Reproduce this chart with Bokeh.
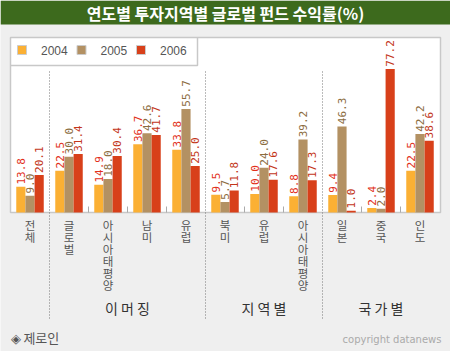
import math
from bokeh.plotting import figure
from bokeh.models import Range1d
from bokeh.core.properties import value
from bokeh.embed import file_html
from bokeh.resources import INLINE

# ---- data ----
title_text = "연도별 투자지역별 글로벌 펀드 수익률(%)"
categories = ["전체", "글로벌", "아시아태평양", "남미", "유럽", "북미", "유럽", "아시아태평양", "일본", "중국", "인도"]
years = ["2004", "2005", "2006"]
v2004 = [13.8, 22.5, 14.9, 36.7, 33.8, 9.5, 10.0, 8.8, 9.4, 2.4, 22.5]
v2005 = [9.0, 30.0, 18.0, 42.6, 55.7, 5.7, 24.0, 39.2, 46.3, 2.0, 42.2]
v2006 = [20.1, 31.4, 30.4, 41.7, 25.0, 11.8, 17.6, 17.3, 1.0, 77.2, 38.6]
groups = [("이 머 징", 1, 5), ("지 역 별", 5, 8), ("국 가 별", 8, 11)]
source_text = "◈ 제로인"
credit_text = "copyright datanews"

bar_colors = ["#fbb034", "#b39163", "#d8401a"]
label_colors = ["#e2301a", "#8c6d3f", "#c3361a"]

W, H = 450, 351
# plot box in pixels (from top-left)
BOX_L, BOX_R, BOX_T, BOX_B = 10, 440, 37, 212
n = len(categories)
P = (BOX_R - BOX_L - 1) / n          # pixels per category cell
S = 1.86                             # pixels per percentage point

p = figure(width=W, height=H, min_border=0, toolbar_location=None,
           output_backend="svg", x_axis_type=None, y_axis_type=None,
           title=None,
           x_range=Range1d(-BOX_L / P, (W - BOX_L) / P),
           y_range=Range1d(-(H - BOX_B) / S, BOX_B / S),
           background_fill_color="#efefef", border_fill_color="#efefef",
           outline_line_color=None)
p.extra_x_ranges = {"px": Range1d(0, W)}
p.extra_y_ranges = {"py": Range1d(H, 0)}
p.grid.visible = False

PX = dict(x_range_name="px", y_range_name="py")

# title bar
p.quad(left=[0], right=[W], top=[0], bottom=[24], fill_color="#3d6a1d",
       line_color=None, **PX)
p.text(x=[W / 2], y=[12.5], text=[title_text], text_color="white",
       text_font=value("Noto Sans CJK KR"), text_font_size="16px",
       text_font_style="bold", text_align="center", text_baseline="middle", **PX)

# plot box
p.quad(left=[BOX_L], right=[BOX_R], top=[BOX_T], bottom=[BOX_B],
       fill_color="white", line_color="#c8c8c8", line_width=1.5, **PX)

# bars
series = [v2004, v2005, v2006]
bw = 0.235
for k, vals in enumerate(series):
    xs = [i + 0.5 + (k - 1) * bw for i in range(n)]
    p.vbar(x=xs, width=bw, bottom=0, top=vals, fill_color=bar_colors[k],
           line_color=None)
    p.text(x=xs, y=[v + 1.2 for v in vals], text=[f"{v:.1f}" for v in vals],
           angle=math.pi / 2, text_color=label_colors[k],
           text_font=value("DejaVu Sans Mono"), text_font_size="11px",
           text_align="left", text_baseline="middle")

# small ticks at category boundaries
bounds_dotted = [g[1] for g in groups]
ticks = [b for b in range(1, n) if b not in bounds_dotted]
p.segment(x0=ticks, x1=ticks, y0=[206] * len(ticks), y1=[BOX_B] * len(ticks),
          line_color="#aaaaaa", line_width=1, y_range_name="py")

# dotted group separators
p.segment(x0=bounds_dotted, x1=bounds_dotted, y0=[71] * 3, y1=[318] * 3,
          line_color="#777777", line_width=1, line_dash="1 2", y_range_name="py")

# legend box lines
p.line(x=[BOX_L, 197, 197], y=[65, 65, BOX_T], line_color="#c8c8c8",
       line_width=1.5, **PX)
for k, yr in enumerate(years):
    lx = 17 + 59.5 * k
    p.quad(left=[lx], right=[lx + 9], top=[45], bottom=[54],
           fill_color=bar_colors[k], line_color="#cccccc", line_width=1, **PX)
    p.text(x=[lx + 23.5], y=[50], text=[yr], text_color="#555555",
           text_font=value("Liberation Sans"), text_font_size="12px",
           text_align="left", text_baseline="middle", **PX)

# category labels (vertical stacked)
p.text(x=[i + 0.5 for i in range(n)], y=[216] * n,
       text=["\n".join(c) for c in categories], text_color="#555555",
       text_font=value("Noto Sans CJK KR"), text_font_size="11.5px",
       text_line_height=0.76, text_align="center", text_baseline="top",
       y_range_name="py")

# group labels
p.text(x=[(g[1] + g[2]) / 2 for g in groups], y=[307] * len(groups),
       text=[g[0] for g in groups], text_color="#333333",
       text_font=value("Noto Sans CJK KR"), text_font_size="14px",
       text_align="center", text_baseline="middle", y_range_name="py")

# footer
p.text(x=[10], y=[337], text=[source_text], text_color="#555555",
       text_font=value("Noto Sans CJK KR"), text_font_size="13px",
       text_align="left", text_baseline="middle", **PX)
p.text(x=[441], y=[339], text=[credit_text], text_color="#aaaaaa",
       text_font=value("DejaVu Sans"), text_font_size="10px",
       text_align="right", text_baseline="middle", **PX)

open("out.html", "w").write(file_html(p, INLINE))
